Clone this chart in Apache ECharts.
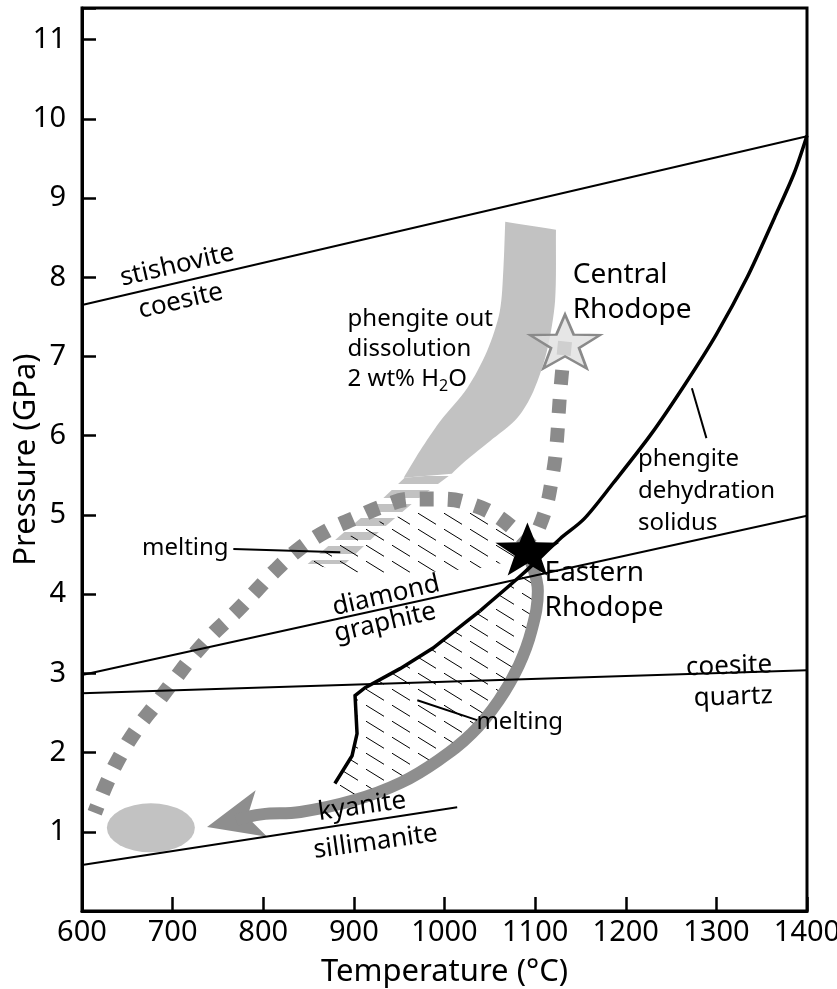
<!DOCTYPE html>
<html>
<head>
<meta charset="utf-8">
<script src="https://cdn.jsdelivr.net/npm/echarts@6/dist/echarts.min.js"></script>
<style>
  html, body { margin: 0; padding: 0; background: #fff; }
  #chart { width: 837px; height: 989px; }
</style>
</head>
<body>
<div id="chart"></div>
<script>
// ---- P–T data (Temperature in °C, Pressure in GPa) ----
const stishoviteCoesite = [[600, 7.65], [1400, 9.78]];
const diamondGraphite = [[600, 2.98], [1400, 4.99]];
const coesiteQuartz = [[600, 2.75], [1400, 3.04]];
const kyaniteSillimanite = [[600, 0.58], [1014, 1.31]];

// phengite dehydration solidus (lower kinked part and upper curve)
const solidusLower = [[879, 1.61], [898, 1.96], [903.5, 2.24], [901.3, 2.72], [912.4, 2.82],
  [951, 3.06], [987.4, 3.32], [1024.9, 3.66], [1039.3, 3.79]];
const solidusUpper = [[1039.3, 3.79], [1086.8, 4.26], [1127.6, 4.70], [1154, 4.95], [1186, 5.40],
  [1228, 6.02], [1266, 6.66], [1300, 7.28], [1334, 8.00], [1364, 8.75], [1386, 9.32], [1400, 9.79]];

// phengite-out dissolution band (2 wt% H2O), left and right edges
const bandLeft = [[1067, 8.70], [1065, 8.11], [1061, 7.57], [1047, 7.07], [1025, 6.60],
  [995, 6.18], [973, 5.81], [955, 5.47]];
const bandRight = [[1123, 8.60], [1122, 7.70], [1113, 7.07], [1098, 6.56], [1080, 6.22],
  [1050, 5.93], [1023, 5.68], [1008, 5.52]];
// striped continuation of the band through the melting field
const bandTailLeft = [[956, 5.47], [923, 5.11], [885, 4.74], [849, 4.38]];
const bandTailRight = [[1008, 5.52], [968, 5.18], [929, 4.80], [890, 4.38]];

// melting fields (hatched)
const meltingUpperField = [[852, 4.40], [885, 4.67], [929, 4.92], [973, 5.05], [1017, 5.08],
  [1061, 4.92], [1089, 4.61], [1089, 4.46], [1039, 4.33], [973, 4.27], [907, 4.27], [863, 4.35]];
const meltingLowerField = [[879, 1.61], [898, 1.96], [903.5, 2.24], [901.3, 2.72], [912.4, 2.82],
  [951, 3.06], [987.4, 3.32], [1024.9, 3.66], [1039.3, 3.79], [1086.8, 4.26], [1100, 4.30],
  [1101, 3.90], [1092, 3.45], [1076, 3.03], [1053, 2.62], [1024, 2.22], [988, 1.88],
  [948, 1.61], [900, 1.40]];

// P–T path: Central Rhodope peak down to Eastern Rhodope, then the prograde loop
const pathCentralToEastern = [[1133, 7.19], [1127.6, 6.54], [1123.2, 5.83], [1118.8, 5.47],
  [1111, 5.05], [1095.6, 4.61]];
const pathLoop = [[1095.6, 4.61], [1061.4, 4.96], [1028.3, 5.14], [997.4, 5.20], [964.2, 5.20],
  [932.2, 5.11], [901.3, 4.96], [870.4, 4.80], [840.6, 4.58], [815.2, 4.32], [794.3, 4.07],
  [771.1, 3.79], [744.6, 3.50], [722.5, 3.22], [702.6, 2.93], [682.8, 2.63], [661.8, 2.32],
  [644.2, 2.00], [628.7, 1.65], [614, 1.24]];

// decompression / cooling arrow from Eastern Rhodope
const exhumation = [[1092, 4.50], [1103, 4.04], [1096, 3.54], [1082, 3.10], [1060, 2.66],
  [1030, 2.24], [993, 1.90], [952, 1.62], [901, 1.40], [841, 1.25], [798, 1.22], [770, 1.15]];
// arrowhead: from the base of the head to its tip
const exhumationHead = [[798, 1.23], [738, 1.06]];

const easternRhodope = [1091.5, 4.57];
const centralRhodope = [1133, 7.19];
const finalStage = [676, 1.05];

// leader lines for labels
const leaderMeltingUpper = [[767, 4.57], [885, 4.53]];
const leaderMeltingLower = [[970, 2.66], [1036, 2.41]];
const leaderSolidus = [[1273, 6.60], [1289, 5.97]];

// text annotations
const annotations = [
  { pos: [705, 8.15], text: 'stishovite', rotate: 13 },
  { pos: [709, 7.70], text: 'coesite', rotate: 13 },
  { pos: [935.5, 3.98], text: 'diamond', rotate: 13 },
  { pos: [934.5, 3.64], text: 'graphite', rotate: 13 },
  { pos: [1314, 3.09], text: 'coesite', rotate: 2 },
  { pos: [1318.5, 2.70], text: 'quartz', rotate: 2 },
  { pos: [909, 1.32], text: 'kyanite', rotate: 8 },
  { pos: [924, 0.87], text: 'sillimanite', rotate: 8 },
  { pos: [714, 4.58], text: 'melting', rotate: 0, size: 24 },
  { pos: [1083, 2.38], text: 'melting', rotate: 0, size: 24 }
];

const FONT = 'Noto Sans';
const GRAY_DASH = '#8b8b8b';
const GRAY_ARROW = '#8e8e8e';
const GRAY_LIGHT = '#c2c2c2';

// diagonal hatching used for the melting fields
function hatchPattern() {
  const c = document.createElement('canvas');
  c.width = 26; c.height = 16;
  const g = c.getContext('2d');
  g.strokeStyle = '#000';
  g.lineWidth = 1;
  g.beginPath();
  g.moveTo(2, 1.2);
  g.lineTo(20, 12.3);
  g.stroke();
  return { image: c, repeat: 'repeat' };
}
// horizontal light-gray stripes for the band where it crosses the melting field
function stripePattern() {
  const c = document.createElement('canvas');
  c.width = 8; c.height = 14;
  const g = c.getContext('2d');
  g.fillStyle = GRAY_LIGHT;
  g.fillRect(0, 0, 8, 8);
  return { image: c, repeat: 'repeat' };
}
function starSymbol(inner) {
  let d = '';
  for (let i = 0; i < 10; i++) {
    const a = -Math.PI / 2 + i * Math.PI / 5;
    const r = i % 2 ? inner : 1;
    d += (i ? 'L' : 'M') + (Math.cos(a) * r).toFixed(4) + ',' + (Math.sin(a) * r).toFixed(4);
  }
  return 'path://' + d + 'Z';
}
// outline of a band from its two edges; end points doubled so the smoothed outline keeps square ends
function bandOutline(left, right) {
  const r = right.slice().reverse();
  const pin = arr => [arr[0]].concat(arr, [arr[arr.length - 1]]);
  return pin(left).concat(pin(r));
}

function polygon(name, points, style, z, smooth) {
  return {
    name, type: 'custom', z, silent: true, clip: true,
    data: [0],
    renderItem: (params, api) => ({
      type: 'polygon',
      shape: { points: points.map(p => api.coord(p)), smooth: smooth || 0 },
      style
    })
  };
}
// notched arrowhead placed on the segment base -> tip (sizes in pixels)
function arrowHead(name, seg, length, width, color, z) {
  return {
    name, type: 'custom', z, silent: true, clip: true,
    data: [0],
    renderItem: (params, api) => {
      const b = api.coord(seg[0]);
      const t = api.coord(seg[1]);
      const dx = t[0] - b[0], dy = t[1] - b[1];
      const n = Math.hypot(dx, dy) || 1;
      const ux = dx / n, uy = dy / n;      // along the arrow
      const nx = -uy, ny = ux;             // across the arrow
      const bx = t[0] - ux * length, by = t[1] - uy * length;
      const notch = [t[0] - ux * length * 0.74, t[1] - uy * length * 0.74];
      return {
        type: 'polygon',
        shape: { points: [t, [bx + nx * width / 2, by + ny * width / 2], notch,
          [bx - nx * width / 2, by - ny * width / 2]] },
        style: { fill: color }
      };
    }
  };
}
function line(name, data, width, color, extra) {
  return Object.assign({
    name, type: 'line', data, symbol: 'none', silent: true, z: 5,
    lineStyle: { width, color, cap: 'butt', join: 'round' }
  }, extra || {});
}

const chart = echarts.init(document.getElementById('chart'), null, { renderer: 'canvas' });

const option = {
  animation: false,
  backgroundColor: '#fff',
  textStyle: { fontFamily: FONT },
  grid: {
    left: 82, right: 30, top: 8, bottom: 78, containLabel: false, outerBoundsMode: 'none',
    show: true, borderColor: '#000', borderWidth: 3
  },
  xAxis: {
    type: 'value', min: 600, max: 1400, interval: 100,
    name: 'Temperature (°C)', nameLocation: 'middle', nameGap: 46, nameMoveOverlap: false,
    nameTextStyle: { fontSize: 31, color: '#000', fontFamily: FONT },
    axisLine: { show: true, lineStyle: { color: '#000', width: 3 } },
    axisTick: { show: true, inside: true, length: 14, lineStyle: { color: '#000', width: 2.5 } },
    axisLabel: { fontSize: 29, color: '#000', margin: 7, fontFamily: FONT, formatter: v => String(v) },
    splitLine: { show: false }
  },
  yAxis: {
    type: 'value', min: 0, max: 11.4, interval: 1,
    name: 'Pressure (GPa)', nameLocation: 'middle', nameGap: 40, nameMoveOverlap: false,
    nameTextStyle: { fontSize: 31, color: '#000', fontFamily: FONT },
    axisLine: { show: true, lineStyle: { color: '#000', width: 3 } },
    axisTick: { show: true, inside: true, length: 14, lineStyle: { color: '#000', width: 2.5 } },
    axisLabel: {
      fontSize: 29, color: '#000', margin: 16, fontFamily: FONT,
      formatter: v => (v > 0 && Math.abs(v - Math.round(v)) < 1e-9) ? String(Math.round(v)) : ''
    },
    splitLine: { show: false }
  },
  series: [
    polygon('phengite out band', bandOutline(bandLeft, bandRight), { fill: GRAY_LIGHT }, 1, 0.3),
    polygon('phengite out band (melting)', bandTailLeft.concat(bandTailRight.slice().reverse()),
      { fill: stripePattern() }, 1),
    polygon('melting field upper', meltingUpperField, { fill: hatchPattern() }, 2),
    polygon('melting field lower', meltingLowerField, { fill: hatchPattern() }, 2),

    line('Central to Eastern Rhodope', pathCentralToEastern, 14, GRAY_DASH,
      { smooth: 0.4, z: 3, lineStyle: { width: 14, color: GRAY_DASH, type: [14, 15], cap: 'butt' } }),
    line('prograde loop', pathLoop, 14, GRAY_DASH,
      { smooth: 0.4, z: 3, lineStyle: { width: 15, color: GRAY_DASH, type: [14, 14], cap: 'butt' } }),

    line('exhumation', exhumation, 12, GRAY_ARROW, { smooth: 0.4, z: 3 }),
    arrowHead('exhumation head', exhumationHead, 56, 48, GRAY_ARROW, 3),
    {
      name: 'final stage', type: 'scatter', silent: true, z: 3,
      symbol: 'circle', symbolSize: [88, 49],
      itemStyle: { color: GRAY_LIGHT, opacity: 1 },
      data: [finalStage]
    },

    line('stishovite-coesite', stishoviteCoesite, 2, '#000'),
    line('diamond-graphite', diamondGraphite, 2, '#000'),
    line('coesite-quartz', coesiteQuartz, 2, '#000'),
    line('kyanite-sillimanite', kyaniteSillimanite, 2, '#000'),
    line('solidus lower', solidusLower, 3.5, '#000', { lineStyle: { width: 3.5, color: '#000', join: 'miter' } }),
    line('solidus upper', solidusUpper, 3.5, '#000', { smooth: 0.3 }),

    line('leader melting upper', leaderMeltingUpper, 2, '#000'),
    line('leader melting lower', leaderMeltingLower, 2, '#000'),
    line('leader solidus', leaderSolidus, 2, '#000'),

    {
      name: 'Central Rhodope', type: 'scatter', silent: true, z: 8,
      symbol: starSymbol(0.4), symbolSize: [70, 54],
      itemStyle: { color: 'rgba(224,224,224,0.8)', borderColor: '#8a8a8a', borderWidth: 2.5, opacity: 1 },
      data: [centralRhodope]
    },
    {
      name: 'Eastern Rhodope', type: 'scatter', silent: true, z: 8,
      symbol: starSymbol(0.4), symbolSize: [64, 53],
      itemStyle: { color: '#000', opacity: 1 },
      data: [easternRhodope]
    },

    {
      name: 'annotations', type: 'scatter', silent: true, z: 9,
      symbol: 'circle', symbolSize: 1, itemStyle: { color: 'rgba(0,0,0,0)', opacity: 1 },
      data: annotations.map(a => ({ value: a.pos, name: a.text,
        label: { rotate: a.rotate, fontSize: a.size || 26 } })),
      label: {
        show: true, position: 'inside', formatter: p => p.name,
        color: '#000', fontSize: 26, fontFamily: FONT
      }
    },
    {
      name: 'block labels', type: 'scatter', silent: true, z: 9,
      symbol: 'circle', symbolSize: 1, itemStyle: { color: 'rgba(0,0,0,0)', opacity: 1 },
      data: [
        { value: [893.6, 7.65], label: { formatter: 'phengite out\ndissolution\n2 wt% H{s|2}O',
          fontSize: 24, lineHeight: 30, align: 'left', verticalAlign: 'top',
          rich: { s: { fontSize: 16, lineHeight: 30, verticalAlign: 'bottom', padding: [8, 0, 0, 0], fontFamily: FONT, color: '#000' } } } },
        { value: [1142, 7.80], label: { formatter: 'Central\nRhodope', fontSize: 28, lineHeight: 35, align: 'left', verticalAlign: 'middle' } },
        { value: [1111, 4.04], label: { formatter: 'Eastern\nRhodope', fontSize: 28, lineHeight: 35, align: 'left', verticalAlign: 'middle' } },
        { value: [1214, 5.30], label: { formatter: 'phengite\ndehydration\nsolidus', fontSize: 24, lineHeight: 32, align: 'left', verticalAlign: 'middle' } }
      ],
      label: { show: true, position: [0, 0], color: '#000', fontFamily: FONT }
    }
  ]
};
chart.setOption(option);
</script>
</body>
</html>
